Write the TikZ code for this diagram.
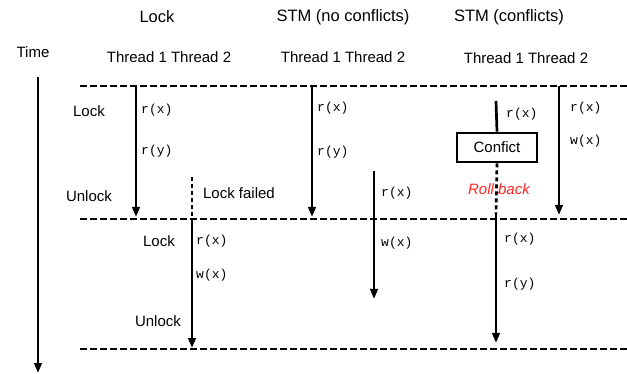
\documentclass[tikz,border=0pt]{standalone}
\usepackage{fontspec}
\setmainfont{Liberation Sans}
\setmonofont{Liberation Mono}
\usetikzlibrary{arrows.meta}

\begin{document}
\begin{tikzpicture}[x=1pt,y=-1pt,font=\fontsize{15}{18}\selectfont,
    head/.style={font=\fontsize{16.5}{19}\selectfont},
    op/.style={anchor=west,inner sep=1pt,font=\ttfamily\fontsize{13}{15}\selectfont},
    run/.style={line width=2.7pt,-{Triangle[length=10pt,width=7.5pt]}},
    wait/.style={line width=2.7pt,dash pattern=on 4pt off 3pt},
    sync/.style={line width=2.6pt,dash pattern=on 6.5pt off 3.5pt}]
  \useasboundingbox (0,0) rectangle (627,374);

  % column headings
  \node[head] (hlock) at (157,17) {Lock};
  \node[head] (hstm) at (343,17) {STM (no conflicts)};
  \node[head] (hstmc) at (509,17) {STM (conflicts)};
  \node (time) at (33,52) {Time};
  \node (thlock) at (169,57) {Thread 1 Thread 2};
  \node (thstm) at (343,57) {Thread 1 Thread 2};
  \node (thstmc) at (526,58) {Thread 1 Thread 2};

  % time axis
  \coordinate (t0) at (38,77);
  \coordinate (t1) at (38,373);
  \draw[run] (t0) -- (t1);

  % barriers
  \coordinate (b1l) at (80,86);  \coordinate (b1r) at (627,86);
  \coordinate (b2l) at (80,219); \coordinate (b2r) at (627,219);
  \coordinate (b3l) at (80,349); \coordinate (b3r) at (627,349);
  \draw[sync] (b1l) -- (b1r);
  \draw[sync] (b2l) -- (b2r);
  \draw[sync] (b3l) -- (b3r);

  % lock
  \coordinate (l1a) at (136,87);
  \coordinate (l1b) at (136,217);
  \draw[run] (l1a) -- (l1b);
  \node (lock1) at (89,111) {Lock};
  \node (unlock1) at (89,196) {Unlock};
  \node[op] (l1rx) at (140,110) {r(x)};
  \node[op] (l1ry) at (140,151) {r(y)};

  \coordinate (l2a) at (192,177);
  \coordinate (l2b) at (192,219);
  \coordinate (l2c) at (192,348);
  \draw[wait] (l2a) -- (l2b);
  \draw[run] (l2b) -- (l2c);
  \node (lfail) at (239,193) {Lock failed};
  \node (lock2) at (159,241) {Lock};
  \node (unlock2) at (158,321) {Unlock};
  \node[op] (l2rx) at (195,241) {r(x)};
  \node[op] (l2wx) at (195,275) {w(x)};

  % stm, no conflicts
  \coordinate (s1a) at (312,87);
  \coordinate (s1b) at (312,217);
  \draw[run] (s1a) -- (s1b);
  \node[op] (s1rx) at (316,108) {r(x)};
  \node[op] (s1ry) at (316,152) {r(y)};

  \coordinate (s2a) at (374,171);
  \coordinate (s2b) at (374,299);
  \draw[run] (s2a) -- (s2b);
  \node[op] (s2rx) at (380,193) {r(x)};
  \node[op] (s2wx) at (380,243) {w(x)};

  % stm, conflicts
  \node[draw,line width=2.6pt,minimum width=80pt,minimum height=29pt,inner sep=0pt]
    (conf) at (497,147.5) {Confict};
  \coordinate (c1a) at (496,101);
  \coordinate (c1b) at (496,214);
  \coordinate (c1c) at (496,343);
  \draw[line width=2.7pt] (c1a) -- (conf.north);
  \draw[wait] (conf.south) -- (c1b);
  \draw[run] (c1b) -- (c1c);
  \node[font=\itshape\fontsize{15}{18}\selectfont,text=red!85!white] (roll) at (499,189) {Roll back};
  \node[op] (c1rx) at (505,114) {r(x)};
  \node[op] (c1rx2) at (503,239) {r(x)};
  \node[op] (c1ry) at (503,284) {r(y)};

  \coordinate (c2a) at (559,86);
  \coordinate (c2b) at (559,215);
  \draw[run] (c2a) -- (c2b);
  \node[op] (c2rx) at (569,108) {r(x)};
  \node[op] (c2wx) at (569,141) {w(x)};
\end{tikzpicture}
\end{document}
